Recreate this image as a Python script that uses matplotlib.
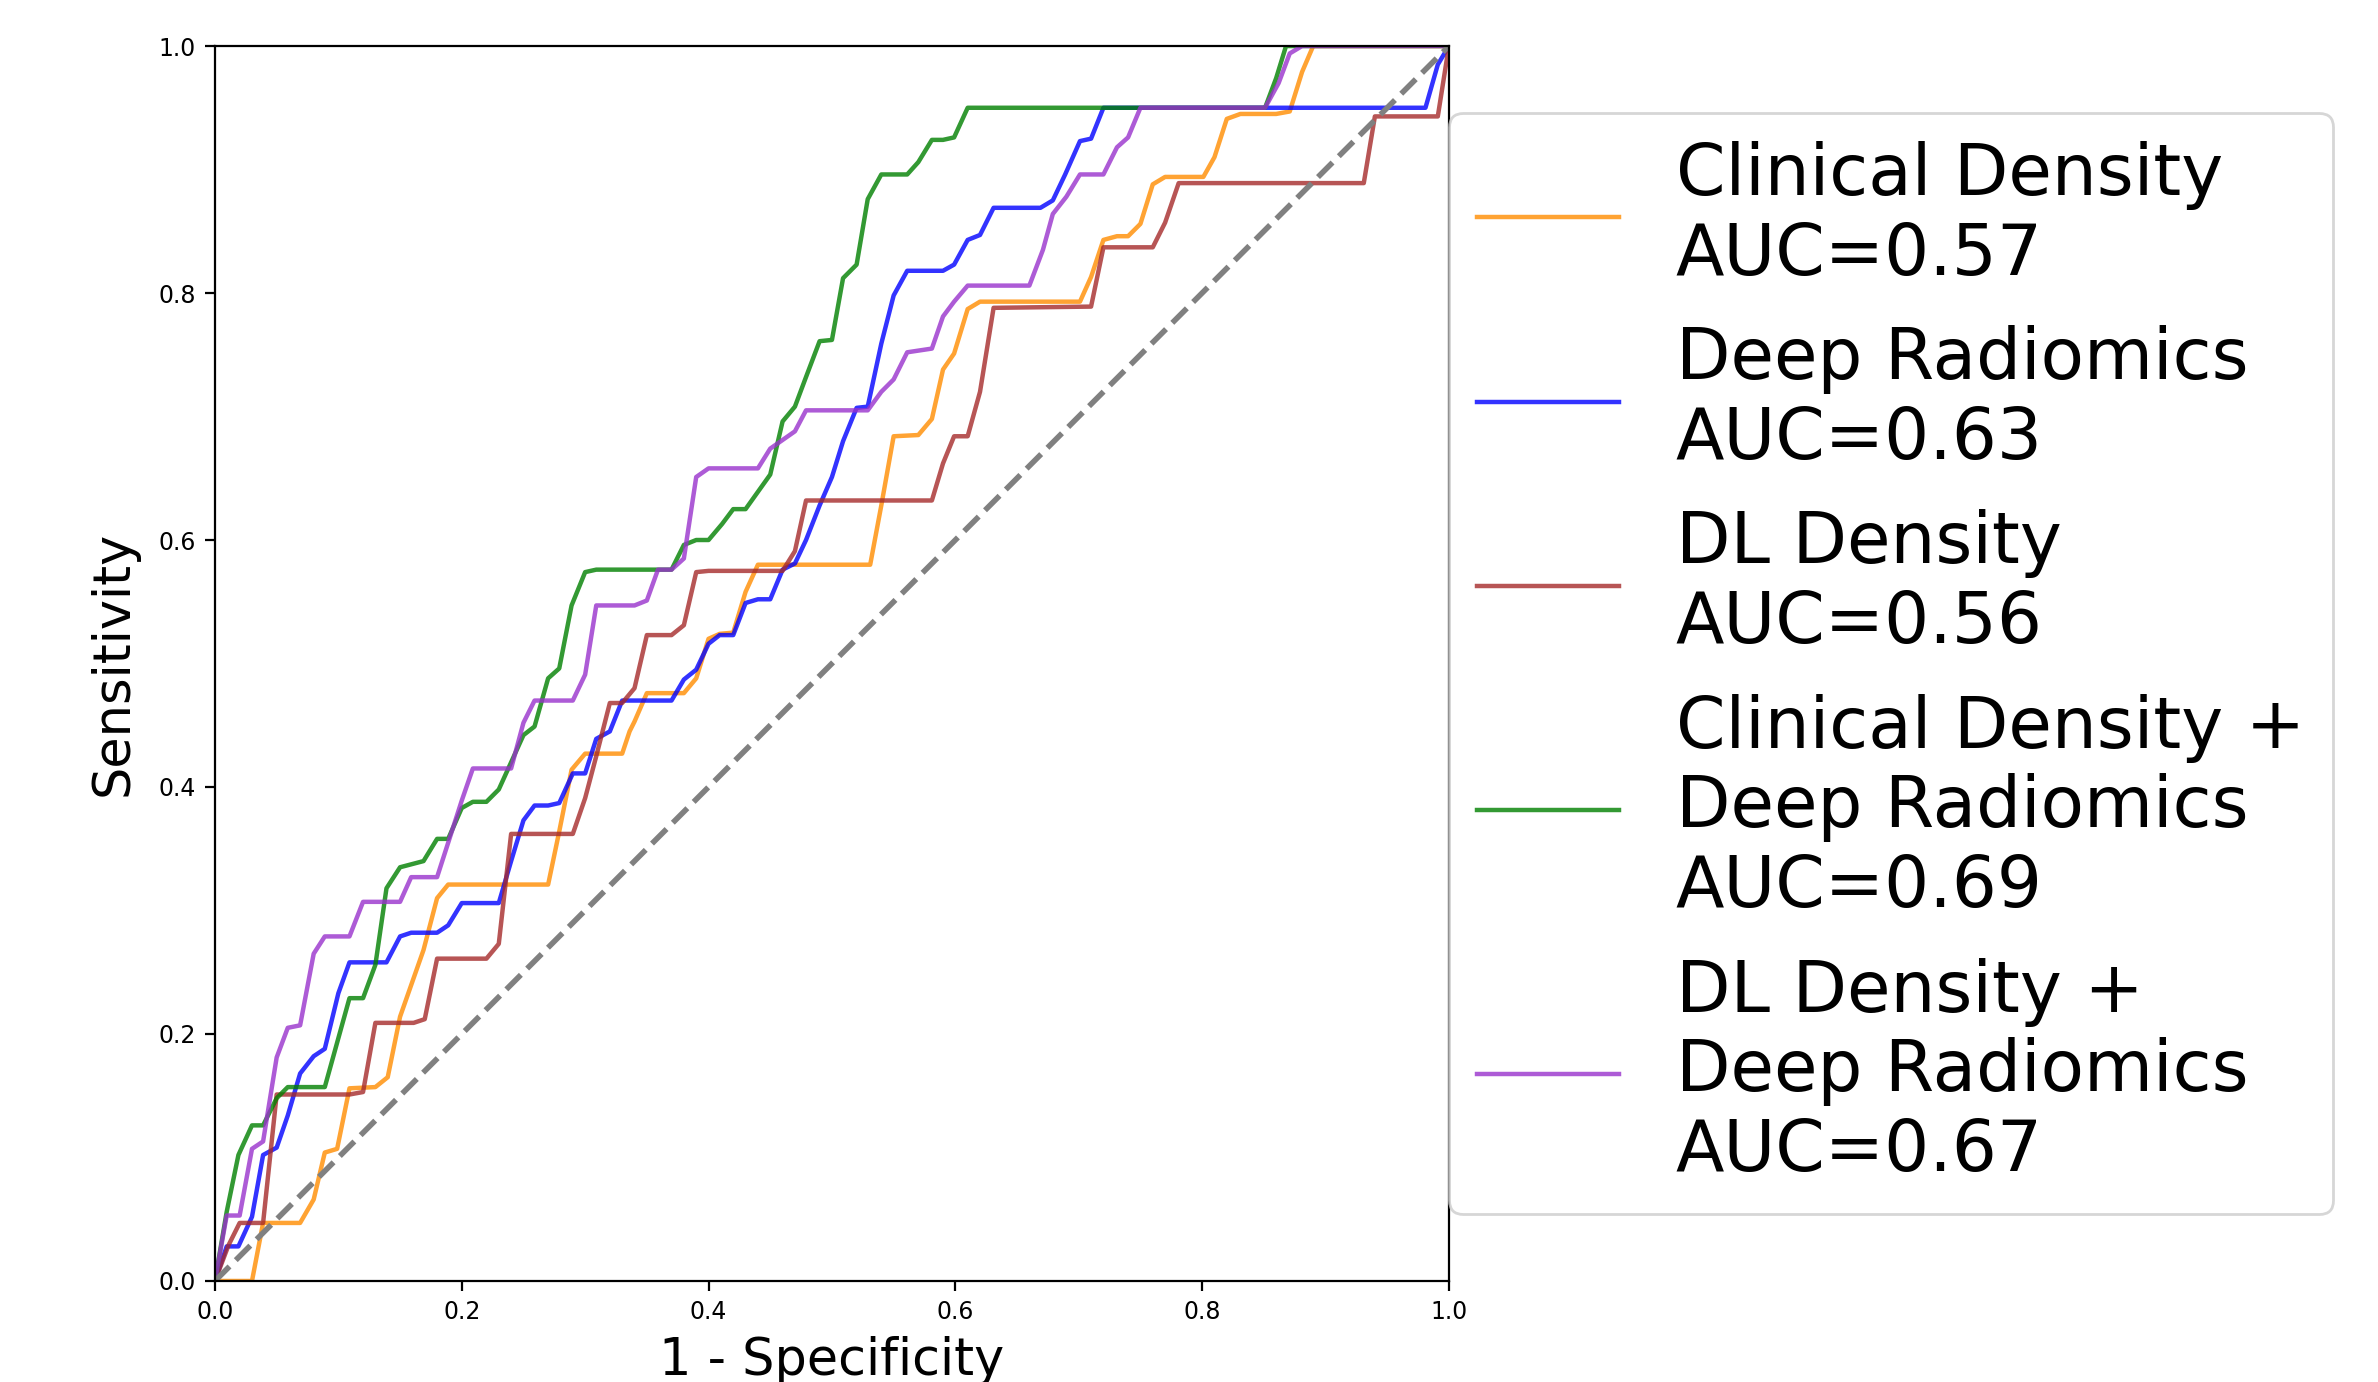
import matplotlib
matplotlib.use("Agg")
import matplotlib.pyplot as plt

# ROC vertices (fpr, tpr)
clinical_roc = [(0, 0), (0.030, 0), (0.039, 0.047), (0.069, 0.047), (0.080, 0.066), (0.089, 0.104),
                (0.099, 0.107), (0.109, 0.156), (0.130, 0.157), (0.140, 0.165), (0.150, 0.214),
                (0.169, 0.268), (0.180, 0.310), (0.189, 0.321), (0.270, 0.321), (0.279, 0.364),
                (0.289, 0.414), (0.300, 0.427), (0.330, 0.427), (0.336, 0.445), (0.340, 0.453),
                (0.350, 0.476), (0.380, 0.476), (0.390, 0.488), (0.400, 0.520), (0.409, 0.524),
                (0.420, 0.525), (0.430, 0.558), (0.440, 0.580), (0.531, 0.580), (0.540, 0.628),
                (0.550, 0.684), (0.570, 0.685), (0.581, 0.698), (0.590, 0.738), (0.599, 0.751),
                (0.610, 0.787), (0.620, 0.793), (0.701, 0.793), (0.710, 0.813), (0.720, 0.843),
                (0.731, 0.846), (0.740, 0.846), (0.750, 0.856), (0.760, 0.888), (0.770, 0.894),
                (0.801, 0.894), (0.810, 0.910), (0.820, 0.941), (0.831, 0.945), (0.860, 0.945),
                (0.871, 0.947), (0.881, 0.979), (0.890, 1.0), (1.0, 1.0)]

radiomics_roc = [(0, 0), (0.0095, 0.028), (0.019, 0.028), (0.030, 0.052), (0.039, 0.102), (0.050, 0.108),
                 (0.059, 0.134), (0.069, 0.168), (0.080, 0.182), (0.089, 0.188), (0.100, 0.233),
                 (0.109, 0.258), (0.139, 0.258), (0.150, 0.279), (0.159, 0.282), (0.180, 0.282),
                 (0.189, 0.288), (0.200, 0.306), (0.230, 0.306), (0.240, 0.340), (0.250, 0.373),
                 (0.259, 0.385), (0.270, 0.385), (0.279, 0.387), (0.290, 0.411), (0.300, 0.411),
                 (0.309, 0.439), (0.320, 0.445), (0.330, 0.470), (0.370, 0.470), (0.380, 0.487),
                 (0.390, 0.495), (0.400, 0.516), (0.409, 0.523), (0.420, 0.523), (0.430, 0.549),
                 (0.440, 0.552), (0.450, 0.552), (0.460, 0.576), (0.470, 0.581), (0.479, 0.600),
                 (0.490, 0.628), (0.500, 0.651), (0.509, 0.680), (0.520, 0.707), (0.529, 0.708),
                 (0.540, 0.759), (0.550, 0.798), (0.561, 0.818), (0.590, 0.818), (0.599, 0.823),
                 (0.610, 0.843), (0.620, 0.847), (0.631, 0.869), (0.669, 0.869), (0.679, 0.875),
                 (0.689, 0.896), (0.701, 0.923), (0.710, 0.925), (0.720, 0.950), (0.981, 0.950),
                 (0.991, 0.985), (1.0, 1.0)]

dl_density_roc = [(0, 0), (0.011, 0.029), (0.020, 0.047), (0.039, 0.047), (0.050, 0.151), (0.109, 0.151),
                  (0.120, 0.153), (0.130, 0.209), (0.161, 0.209), (0.170, 0.212), (0.180, 0.261),
                  (0.220, 0.261), (0.230, 0.273), (0.240, 0.362), (0.290, 0.362), (0.300, 0.391),
                  (0.309, 0.425), (0.320, 0.468), (0.330, 0.468), (0.340, 0.480), (0.350, 0.523),
                  (0.370, 0.523), (0.380, 0.531), (0.390, 0.574), (0.400, 0.575), (0.460, 0.575),
                  (0.470, 0.591), (0.479, 0.632), (0.581, 0.632), (0.590, 0.662), (0.599, 0.684),
                  (0.610, 0.684), (0.620, 0.720), (0.631, 0.788), (0.710, 0.789), (0.720, 0.837),
                  (0.760, 0.837), (0.770, 0.857), (0.781, 0.889), (0.931, 0.889), (0.940, 0.943),
                  (0.991, 0.943), (1.0, 1.0)]

clinical_radiomics_roc = [(0, 0), (0.0095, 0.056), (0.019, 0.102), (0.030, 0.126), (0.039, 0.126),
                          (0.050, 0.148), (0.059, 0.157), (0.089, 0.157), (0.109, 0.229), (0.120, 0.229),
                          (0.130, 0.256), (0.139, 0.318), (0.150, 0.335), (0.169, 0.340), (0.180, 0.358),
                          (0.189, 0.358), (0.200, 0.383), (0.209, 0.388), (0.220, 0.388), (0.230, 0.398),
                          (0.250, 0.442), (0.259, 0.449), (0.270, 0.488), (0.279, 0.496), (0.289, 0.547),
                          (0.300, 0.574), (0.309, 0.576), (0.370, 0.576), (0.380, 0.596), (0.390, 0.600),
                          (0.400, 0.600), (0.411, 0.613), (0.420, 0.625), (0.430, 0.625), (0.440, 0.639),
                          (0.450, 0.653), (0.460, 0.696), (0.470, 0.708), (0.479, 0.732), (0.490, 0.761),
                          (0.500, 0.762), (0.509, 0.812), (0.520, 0.823), (0.529, 0.876), (0.540, 0.896),
                          (0.561, 0.896), (0.570, 0.906), (0.581, 0.924), (0.590, 0.924), (0.599, 0.926),
                          (0.610, 0.950), (0.851, 0.950), (0.860, 0.974), (0.868, 1.0), (1.0, 1.0)]

dl_radiomics_roc = [(0, 0), (0.0095, 0.053), (0.020, 0.053), (0.030, 0.107), (0.039, 0.113), (0.050, 0.181),
                    (0.059, 0.205), (0.069, 0.207), (0.080, 0.265), (0.089, 0.279), (0.109, 0.279),
                    (0.120, 0.307), (0.150, 0.307), (0.159, 0.327), (0.180, 0.327), (0.200, 0.389),
                    (0.209, 0.415), (0.240, 0.415), (0.250, 0.452), (0.259, 0.470), (0.290, 0.470),
                    (0.300, 0.491), (0.309, 0.547), (0.340, 0.547), (0.350, 0.551), (0.359, 0.576),
                    (0.370, 0.576), (0.380, 0.585), (0.390, 0.651), (0.400, 0.658), (0.440, 0.658),
                    (0.450, 0.674), (0.460, 0.681), (0.470, 0.688), (0.479, 0.705), (0.529, 0.705),
                    (0.540, 0.720), (0.550, 0.730), (0.561, 0.752), (0.581, 0.755), (0.590, 0.781),
                    (0.599, 0.793), (0.610, 0.806), (0.660, 0.806), (0.671, 0.835), (0.679, 0.864),
                    (0.690, 0.878), (0.701, 0.896), (0.720, 0.896), (0.731, 0.918), (0.740, 0.926),
                    (0.750, 0.950), (0.851, 0.950), (0.862, 0.970), (0.871, 0.994), (0.881, 1.0),
                    (1.0, 1.0)]

model_names = ['Clinical Density', 'Deep Radiomics', 'DL Density',
               'Clinical Density +\nDeep Radiomics', 'DL Density +\nDeep Radiomics']
auc_values = [0.57, 0.63, 0.56, 0.69, 0.67]
colors = ['darkorange', 'blue', 'brown', 'green', 'darkorchid']
curves = [clinical_roc, radiomics_roc, dl_density_roc, clinical_radiomics_roc, dl_radiomics_roc]

fig = plt.figure(figsize=(11.89, 6.91), dpi=200)
ax = fig.add_axes([0.0904, 0.0731, 0.5189, 0.8936])

for roc, name, auc, col in zip(curves, model_names, auc_values, colors):
    fpr, tpr = zip(*roc)
    ax.plot(fpr, tpr, color=col, lw=1.6, alpha=0.8, label=f'{name}\nAUC={auc:.2f}')

ax.plot([0, 1], [0, 1], linestyle='--', lw=2, color='gray')

ax.set_xlim(0, 1)
ax.set_ylim(0, 1)
ax.tick_params(labelsize=8.5)
ax.set_xlabel('1 - Specificity', fontsize=18.3)
ax.set_ylabel('Sensitivity', fontsize=18.3, labelpad=7)
ax.legend(loc='center left', bbox_to_anchor=(1, 0.5), borderaxespad=0, fontsize=25.5)

fig.savefig('out.png', dpi=200)
